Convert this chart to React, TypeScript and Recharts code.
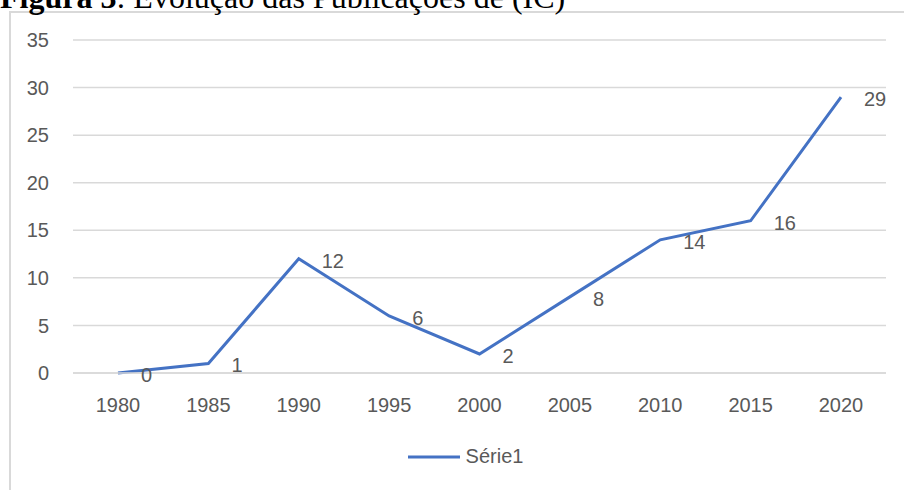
import React from 'react';
import { LineChart, Line, XAxis, YAxis, CartesianGrid, Legend } from 'recharts';

const years = ['1980', '1985', '1990', '1995', '2000', '2005', '2010', '2015', '2020'];
const serie1 = [0, 1, 12, 6, 2, 8, 14, 16, 29];
const yTicks = [0, 5, 10, 15, 20, 25, 30, 35];

const data = years.map((year, i) => ({ year, serie1: serie1[i] }));

const FONT = '"Liberation Sans", Arial, sans-serif';
const GRAY = '#595959';
const BLUE = '#4472C4';

// labels sit to the right of each point, like Excel's "Right" position
const renderLabel = (props: any) => {
    const { x, y, value } = props;
    return (
        <text x={x + 23} y={y + 2} fill={GRAY} fontSize={20} fontFamily={FONT} textAnchor="start" dominantBaseline="central">
            {value}
        </text>
    );
};

const renderLegend = () => (
    <div style={{ display: 'flex', justifyContent: 'center', alignItems: 'center', paddingLeft: 32, fontFamily: FONT, fontSize: 20, color: GRAY }}>
        <svg width={52} height={10} style={{ marginRight: 6 }}>
            <line x1={0} y1={5} x2={52} y2={5} stroke={BLUE} strokeWidth={3} />
        </svg>
        <span>Série1</span>
    </div>
);

export default function App() {
    return (
        <div style={{ position: 'absolute', left: 0, top: 0, width: 904, height: 490, overflow: 'hidden', background: '#fff' }}>
            <div style={{ position: 'absolute', left: 9, top: 11, width: 920, height: 500, border: '2px solid #d9d9d9', boxSizing: 'border-box' }} />
            <div style={{ position: 'absolute', left: 0, top: -19, fontFamily: '"Liberation Serif", "Times New Roman", serif', fontSize: 32, lineHeight: '32px', color: '#000', whiteSpace: 'nowrap' }}>
                <b>Figura 3</b>: Evolução das Publicações de (IC)
            </div>
            <div style={{ position: 'absolute', left: 0, top: 0 }}>
                <LineChart width={904} height={490} data={data} margin={{ top: 40, right: 18, left: 13, bottom: 5 }}>
                    <CartesianGrid vertical={false} stroke="#d9d9d9" strokeWidth={1.5} />
                    <XAxis
                        dataKey="year"
                        padding={{ left: 45, right: 45 }}
                        axisLine={{ stroke: '#d9d9d9', strokeWidth: 1.5 }}
                        tickLine={false}
                        tickSize={0}
                        tickMargin={25}
                        height={72}
                        tick={{ fill: GRAY, fontSize: 20, fontFamily: FONT }}
                    />
                    <YAxis
                        domain={[0, 35]}
                        ticks={yTicks}
                        axisLine={false}
                        tickLine={false}
                        tickSize={0}
                        tickMargin={24}
                        width={60}
                        tick={{ fill: GRAY, fontSize: 20, fontFamily: FONT }}
                    />
                    <Line
                        type="linear"
                        dataKey="serie1"
                        name="Série1"
                        stroke={BLUE}
                        strokeWidth={3}
                        dot={false}
                        activeDot={false}
                        isAnimationActive={false}
                        label={renderLabel}
                    />
                    <Legend verticalAlign="bottom" height={40} content={renderLegend} />
                </LineChart>
            </div>
        </div>
    );
}
